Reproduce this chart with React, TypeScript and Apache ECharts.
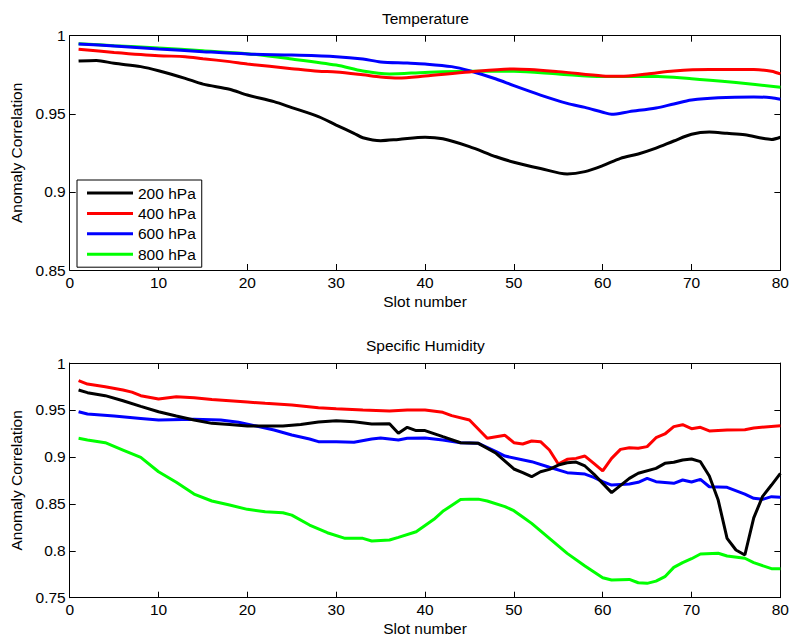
import React, { useEffect, useRef } from "react";
import * as echarts from "echarts";

const levelNames = ["200 hPa", "400 hPa", "600 hPa", "800 hPa"];
const levelColors = ["#000000", "#ff0000", "#0000ff", "#00ff00"];
const panelTitles = ["Temperature", "Specific Humidity"];
const xLabel = "Slot number";
const yLabel = "Anomaly Correlation";

// Temperature panel: [slot, anomaly correlation]
const temp200 = [[1,0.9838],[3,0.9842],[5,0.9823],[8,0.9802],[10,0.9776],[13,0.9727],[15,0.969],[18,0.9657],[20,0.962],[23,0.9578],[25,0.954],[28,0.9482],[30,0.9428],[32,0.9375],[33,0.9347],[35,0.9328],[37,0.9336],[40,0.935],[42,0.934],[45,0.929],[48,0.9225],[50,0.919],[53,0.915],[56,0.9115],[58,0.913],[60,0.9168],[62,0.9215],[64,0.9243],[66,0.928],[68,0.9326],[70,0.9369],[72,0.9383],[74,0.9375],[76,0.9366],[78,0.9343],[79,0.9336],[80,0.935]];
const temp400 = [[1,0.9913],[5,0.9893],[10,0.9872],[13,0.9866],[15,0.9853],[18,0.9834],[20,0.9819],[25,0.9789],[28,0.9772],[30,0.9768],[33,0.975],[35,0.9736],[37,0.9729],[40,0.9742],[45,0.9768],[50,0.9787],[55,0.977],[60,0.9742],[62,0.974],[65,0.9755],[68,0.9774],[72,0.9783],[77,0.9783],[79,0.9773],[80,0.9755]];
const temp600 = [[1,0.9947],[5,0.9934],[10,0.9915],[15,0.9898],[20,0.9883],[25,0.9876],[30,0.9866],[33,0.9851],[35,0.9832],[38,0.9825],[40,0.9819],[43,0.9802],[45,0.9776],[48,0.9723],[50,0.968],[53,0.962],[56,0.9567],[58,0.9541],[60,0.951],[61,0.9497],[63,0.9514],[66,0.9537],[68,0.9563],[70,0.9588],[73,0.9603],[77,0.9608],[79,0.9603],[80,0.9593]];
const temp800 = [[1,0.9949],[5,0.9936],[10,0.9921],[15,0.9904],[20,0.9885],[25,0.9851],[30,0.9812],[33,0.9774],[36,0.9755],[40,0.9765],[45,0.9772],[50,0.9772],[55,0.9755],[60,0.9738],[65,0.974],[70,0.9725],[75,0.97],[80,0.967]];

// Specific humidity panel: [slot, anomaly correlation]
const hum200 = [[1,0.9712],[2,0.9684],[4,0.9652],[6,0.9598],[8,0.9538],[10,0.9481],[12,0.9435],[14,0.9393],[16,0.9357],[18,0.9346],[20,0.9329],[22,0.9329],[24,0.9329],[26,0.9346],[28,0.9371],[30,0.9386],[32,0.9375],[34,0.935],[36,0.9354],[37,0.9251],[38,0.9315],[39,0.928],[40,0.928],[42,0.9215],[44,0.9151],[46,0.9144],[48,0.9038],[50,0.8871],[51,0.8832],[52,0.8789],[53,0.8842],[54,0.8867],[55,0.8913],[56,0.8938],[57,0.8945],[58,0.8903],[59,0.8817],[60,0.8718],[61,0.8619],[63,0.8771],[64,0.8825],[66,0.8878],[67,0.8931],[68,0.8942],[69,0.8967],[70,0.8977],[71,0.8949],[72,0.8796],[73,0.854],[74,0.8132],[75,0.8008],[76,0.7955],[77,0.835],[78,0.858],[79,0.87],[80,0.8824]];
const hum400 = [[1,0.9812],[2,0.9776],[4,0.9748],[6,0.9712],[7,0.969],[8,0.9652],[10,0.9616],[12,0.964],[14,0.963],[16,0.9612],[18,0.9598],[20,0.9584],[22,0.957],[25,0.9553],[28,0.9524],[30,0.9513],[33,0.9499],[36,0.9489],[38,0.9499],[40,0.9499],[42,0.9475],[43,0.9439],[45,0.9393],[47,0.9198],[49,0.923],[50,0.9151],[51,0.9137],[52,0.9169],[53,0.9162],[54,0.9073],[55,0.8924],[56,0.8974],[57,0.8984],[58,0.9009],[59,0.8931],[60,0.885],[61,0.8984],[62,0.908],[63,0.9098],[64,0.9091],[65,0.9109],[66,0.9204],[67,0.9244],[68,0.9322],[69,0.9343],[70,0.93],[71,0.9315],[72,0.9276],[74,0.9286],[76,0.929],[77,0.9308],[80,0.9332]];
const hum600 = [[1,0.9481],[2,0.9457],[5,0.9435],[8,0.941],[10,0.9393],[14,0.94],[17,0.9393],[19,0.9368],[21,0.9329],[23,0.9286],[25,0.9233],[27,0.919],[28,0.9162],[30,0.9162],[32,0.9155],[34,0.919],[35,0.92],[37,0.918],[38,0.9198],[40,0.92],[42,0.918],[44,0.9151],[46,0.9144],[48,0.9055],[49,0.9009],[52,0.8949],[54,0.8889],[56,0.8832],[58,0.8817],[59,0.8782],[60,0.8736],[61,0.87],[63,0.8711],[64,0.8729],[65,0.8771],[66,0.8736],[68,0.8718],[69,0.8754],[70,0.8732],[71,0.8761],[72,0.8682],[74,0.8676],[76,0.8604],[77,0.8559],[78,0.8548],[79,0.8576],[80,0.8569]];
const hum800 = [[1,0.9198],[2,0.918],[4,0.9151],[6,0.9073],[8,0.8995],[10,0.8842],[12,0.8729],[14,0.8604],[16,0.853],[18,0.8487],[20,0.8441],[22,0.8416],[24,0.8405],[25,0.838],[27,0.8274],[29,0.8192],[31,0.8132],[33,0.8132],[34,0.8104],[36,0.8114],[37,0.8143],[39,0.8203],[41,0.8335],[42,0.842],[44,0.8545],[45,0.855],[46,0.855],[47,0.853],[49,0.847],[50,0.8427],[51,0.836],[52,0.8292],[54,0.8132],[56,0.7972],[58,0.7837],[60,0.7713],[61,0.7688],[63,0.7695],[64,0.7659],[65,0.7653],[66,0.7677],[67,0.7724],[68,0.7823],[69,0.7873],[70,0.7915],[71,0.7965],[73,0.7973],[74,0.7944],[76,0.792],[77,0.7873],[79,0.7809],[80,0.7809]];

const tempSeries = [temp200, temp400, temp600, temp800];
const humSeries = [hum200, hum400, hum600, hum800];

const xRange = { min: 0, max: 80, interval: 10 };
const tempRange = { min: 0.85, max: 1, interval: 0.05 };
const humRange = { min: 0.75, max: 1, interval: 0.05 };

const FONT = '"Liberation Sans", Arial, sans-serif';
const FS = 15.5;
const LW = 3;

export default function App() {
  const ref = useRef<HTMLDivElement>(null);
  useEffect(() => {
    if (!ref.current) return;
    const chart = echarts.init(ref.current, null, { renderer: "svg" });

    const lineAxis = { show: true, onZero: false, lineStyle: { color: "#000", width: 1 } };
    const tick = { show: true, inside: true, length: 6, lineStyle: { color: "#000", width: 1 } };
    const lbl = { color: "#000", fontSize: FS, fontFamily: FONT };

    const makeX = (gridIndex: number) => [
      {
        type: "value", gridIndex, position: "bottom", ...xRange,
        axisLine: lineAxis, axisTick: tick, splitLine: { show: false },
        axisLabel: { ...lbl, margin: 4 },
        name: xLabel, nameLocation: "middle", nameGap: 23,
        nameTextStyle: { ...lbl },
      },
      {
        type: "value", gridIndex, position: "top", ...xRange,
        axisLine: lineAxis, axisTick: tick, splitLine: { show: false },
        axisLabel: { show: false },
      },
    ];
    const makeY = (gridIndex: number, r: any) => [
      {
        type: "value", gridIndex, position: "left", ...r,
        axisLine: lineAxis, axisTick: tick, splitLine: { show: false },
        axisLabel: { ...lbl, margin: 4 },
        name: yLabel, nameLocation: "middle", nameGap: 44,
        nameTextStyle: { ...lbl },
      },
      {
        type: "value", gridIndex, position: "right", ...r,
        axisLine: lineAxis, axisTick: tick, splitLine: { show: false },
        axisLabel: { show: false },
      },
    ];

    const series: any[] = [];
    tempSeries.forEach((d, i) => {
      series.push({
        type: "line", name: levelNames[i], xAxisIndex: 0, yAxisIndex: 0,
        data: d, symbol: "none", showSymbol: false, smooth: 0.3,
        lineStyle: { color: levelColors[i], width: LW }, itemStyle: { color: levelColors[i] },
        z: 10 - i,
      });
    });
    humSeries.forEach((d, i) => {
      series.push({
        type: "line", name: levelNames[i], xAxisIndex: 2, yAxisIndex: 2,
        data: d, symbol: "none", showSymbol: false,
        lineStyle: { color: levelColors[i], width: LW }, itemStyle: { color: levelColors[i] },
        z: 10 - i,
      });
    });

    chart.setOption({
      animation: false,
      backgroundColor: "#ffffff",
      textStyle: { fontFamily: FONT },
      grid: [
        { left: 69.7, right: 11, top: 35.7, height: 234.3, containLabel: false },
        { left: 69.7, right: 11, top: 363, height: 234.7, containLabel: false },
      ],
      xAxis: [...makeX(0), ...makeX(1)],
      yAxis: [...makeY(0, tempRange), ...makeY(1, humRange)],
      legend: {
        data: levelNames,
        orient: "vertical",
        left: 77, top: 180,
        padding: [5, 6, 5, 10],
        icon: "rect",
        itemWidth: 46, itemHeight: 3, itemGap: 4.4,
        backgroundColor: "#fff",
        borderColor: "#000", borderWidth: 1, borderRadius: 0,
        selectedMode: false,
        textStyle: { color: "#000", fontSize: FS, fontFamily: FONT, lineHeight: 15 },
      },
      graphic: [
        { type: "text", x: 425.4, y: 18, style: { text: panelTitles[0], fill: "#000", font: `${FS}px ${FONT}`, textAlign: "center", textVerticalAlign: "middle" } },
        { type: "text", x: 425.4, y: 345, style: { text: panelTitles[1], fill: "#000", font: `${FS}px ${FONT}`, textAlign: "center", textVerticalAlign: "middle" } },
      ],
      series,
    });
    return () => chart.dispose();
  }, []);
  return <div ref={ref} style={{ position: "absolute", left: 0, top: 0, width: 792, height: 639 }} />;
}
